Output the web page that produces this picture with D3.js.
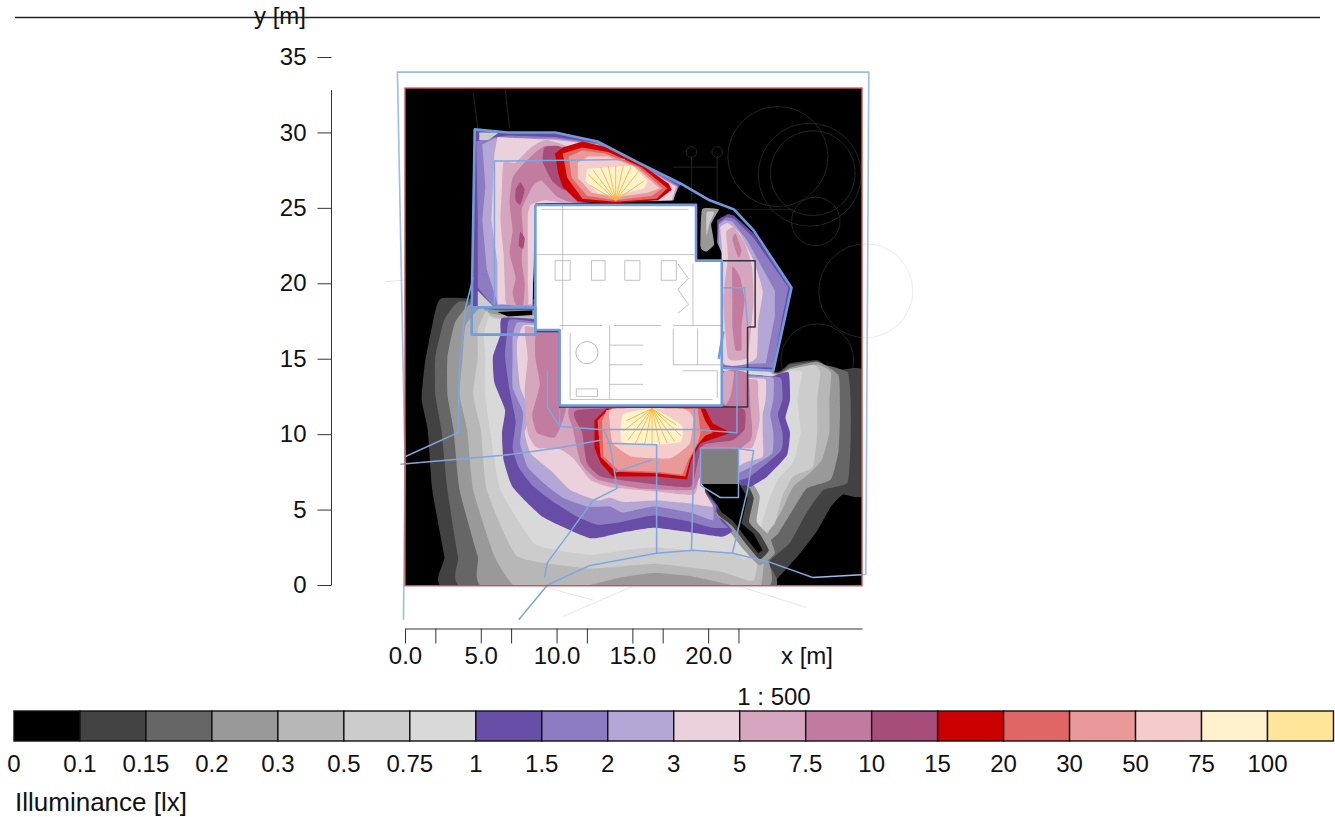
<!DOCTYPE html>
<html>
<head>
<meta charset="utf-8">
<script src="https://cdn.jsdelivr.net/npm/d3@7"></script>
<style>
body { margin: 0; background: #fff; }
text { font-family: "Liberation Sans", Arial, sans-serif; fill: #111; }
</style>
</head>
<body>
<div id="chart"></div>
<script>
// illuminance classes
var legendTicks = ["0","0.1","0.15","0.2","0.3","0.5","0.75","1","1.5","2","3","5","7.5","10","15","20","30","50","75","100"];
var legendColors = ["#000000","#434343","#666666","#999999","#b7b7b7","#cccccc","#d9d9d9","#674ea7","#8e7cc3","#b4a7d6","#ead1dc","#d5a6bd","#c27ba0","#a64d79","#cc0000","#e06666","#ea9999","#f4cccc","#fff2cc","#ffe599"];

// axis ticks, metres
var xTicks = [0,2,5,7,10,12,15,17,20,22];
var xLabelled = [0,5,10,15,20];
var yTicks = [0,5,10,15,20,25,30,35];

// isolux rings, [x m, y m]
var grayAll01 = [[2.4,19.0],[1.8,17.2],[1.3,14.6],[1.1,12.3],[1.5,10.3],[1.8,6.3],[2.6,1.9],[3.0,-0.3],[24.2,-0.3],[24.3,0.1],[25.9,1.9],[27.2,3.6],[28.1,5.2],[28.9,6.0],[30.4,6.1],[30.4,14.1],[28.3,14.2],[27.2,14.9],[25.4,14.7],[24.3,14.2],[19.5,18.9],[6.3,18.9]];
var grayAll015 = [[3.6,18.8],[2.6,17.6],[2.0,15.1],[2.0,12.6],[2.4,10.3],[2.8,6.3],[3.5,1.9],[4.2,-0.3],[23.9,-0.3],[24.0,1.5],[25.4,2.8],[26.5,4.8],[27.6,6.3],[29.2,6.8],[29.4,9.6],[29.4,12.3],[29.2,14.1],[27.7,14.6],[27.1,14.8],[25.4,14.6],[24.3,14.1],[19.5,18.6],[6.3,18.6]];
var grayAll02 = [[4.3,18.6],[3.3,17.4],[2.8,15.1],[2.8,12.6],[3.2,10.3],[3.6,6.3],[4.8,1.9],[5.6,-0.3],[23.6,-0.3],[23.7,2.5],[24.6,3.4],[25.6,5.0],[26.5,6.4],[28.1,7.0],[28.6,8.9],[28.7,11.4],[28.6,13.9],[27.2,14.8],[25.4,14.4],[24.3,14.1],[19.5,18.2],[6.3,18.2]];
var grayAll03 = [[5.0,18.4],[4.0,17.2],[3.8,15.1],[3.6,12.6],[4.1,10.3],[4.5,6.3],[5.9,1.9],[7.4,-0.2],[11.6,-0.1],[14.2,0.5],[16.4,0.8],[18.8,0.6],[21.1,0.1],[23.4,-0.3],[23.9,3.3],[24.8,4.8],[25.6,6.5],[26.7,7.4],[27.5,8.3],[28.0,10.1],[28.0,12.3],[28.1,14.1],[27.2,14.6],[25.4,14.3],[24.3,14.0],[19.5,17.9],[6.3,17.9]];
var grayAll05 = [[5.4,18.2],[4.8,16.9],[4.8,15.1],[4.5,12.6],[5.0,10.3],[5.4,6.3],[7.4,1.9],[12.2,1.1],[16.6,1.4],[20.8,0.9],[23.0,0.3],[23.5,3.0],[24.4,4.1],[24.9,5.9],[25.6,7.2],[26.9,7.8],[27.2,10.1],[27.2,12.3],[27.4,14.1],[27.0,14.6],[25.4,14.3],[24.3,14.0],[19.5,17.7],[6.3,17.7]];
var grayAll075 = [[5.6,17.9],[5.2,16.6],[5.3,15.1],[5.3,12.6],[5.6,10.3],[6.3,6.3],[8.6,2.7],[12.2,2.0],[14.4,2.3],[16.6,2.5],[19.5,2.2],[21.8,2.0],[22.4,1.7],[22.9,2.1],[23.4,3.6],[24.0,5.6],[24.6,7.0],[25.6,8.1],[26.1,10.1],[25.9,12.3],[26.2,14.1],[25.4,14.2],[24.3,13.9],[19.5,17.6],[6.3,17.6]];

var wedgeGray = [[22.6,7.0],[23.4,5.9],[23.2,4.2],[24.0,3.3],[24.4,2.1],[23.4,1.3],[22.3,2.4],[21.3,3.7],[20.5,4.4],[19.5,6.8]];
var wedgeDark = [[22.3,6.9],[23.0,5.8],[22.7,4.2],[23.4,3.4],[24.0,2.3],[23.4,1.7],[22.6,2.6],[21.6,3.9],[20.7,4.6],[20.4,5.2],[19.5,6.8]];
var wedgeBlack = [[19.5,6.8],[22.0,6.8],[22.6,5.8],[22.2,4.1],[23.0,3.4],[23.6,2.3],[23.3,2.1],[22.6,3.0],[21.6,4.3],[20.9,4.8],[20.6,5.3]];

var south1 = [[6.4,17.7],[6.3,16.6],[5.8,15.1],[5.9,13.4],[6.6,11.6],[6.4,10.1],[6.5,8.3],[7.1,6.5],[9.1,4.5],[12.2,3.1],[14.4,3.5],[16.4,3.8],[18.8,3.5],[20.9,3.2],[21.6,3.6],[21.0,4.3],[20.5,4.6],[20.6,5.3],[19.5,6.6],[22.4,6.6],[22.8,6.5],[23.9,7.2],[25.2,8.6],[25.4,10.1],[25.1,11.1],[25.4,12.3],[25.3,14.1],[24.1,13.8],[23.4,13.9],[20.9,14.2],[12.9,16.9],[8.9,17.6]];
var south15 = [[6.9,17.6],[6.7,16.4],[6.6,15.1],[6.9,12.9],[7.3,10.9],[7.1,9.1],[7.5,7.8],[8.4,6.6],[9.8,5.5],[11.4,4.5],[12.7,4.0],[14.4,4.2],[16.4,4.6],[18.8,4.2],[20.3,3.8],[21.3,3.8],[20.9,4.2],[20.5,4.8],[20.5,5.3],[19.7,6.4],[22.6,7.1],[24.8,8.9],[24.9,10.1],[24.6,11.3],[24.9,12.3],[24.8,13.7],[23.4,13.9],[20.9,14.1],[12.9,16.7],[8.9,17.4]];
var south2 = [[7.4,17.4],[7.1,16.4],[7.1,15.1],[7.1,13.1],[7.8,11.4],[7.6,9.4],[8.1,7.8],[9.1,6.8],[10.4,5.8],[12.0,5.2],[13.5,5.2],[14.4,4.8],[16.4,5.2],[18.8,4.8],[20.3,4.3],[20.3,5.3],[19.7,6.4],[22.4,7.6],[24.2,8.7],[24.3,10.1],[24.1,11.3],[24.3,12.3],[24.3,13.7],[23.4,13.8],[20.9,14.0],[12.9,16.5],[8.9,17.3]];
var south3 = [[7.8,17.2],[7.4,16.2],[7.4,15.1],[7.6,13.1],[8.3,11.4],[7.9,10.1],[8.3,8.7],[9.6,7.6],[10.9,6.3],[12.7,5.6],[13.5,5.8],[14.4,5.5],[16.7,5.6],[18.8,5.4],[20.3,5.2],[19.8,6.4],[22.4,8.1],[23.6,8.5],[23.6,10.1],[23.6,11.3],[23.8,12.3],[23.8,13.6],[23.1,13.7],[20.9,13.9],[12.9,16.4],[8.9,17.2]];
var south5 = [[7.9,17.1],[8.1,15.1],[7.9,12.9],[8.1,10.1],[8.7,9.1],[10.2,9.0],[11.1,8.4],[12.2,7.0],[13.5,6.5],[16.6,6.2],[19.1,6.0],[19.5,7.6],[20.8,9.1],[22.9,9.1],[23.4,10.9],[23.3,12.6],[23.2,13.6],[20.9,13.8],[12.9,16.2],[8.9,17.0]];
var west75 = [[8.7,16.9],[8.6,15.1],[8.9,13.3],[8.4,11.3],[8.7,10.1],[9.9,9.8],[10.6,11.6],[10.9,16.9]];
var south75 = [[11.1,10.3],[11.6,8.1],[12.7,7.0],[15.5,6.4],[19.0,6.3],[19.5,7.2],[22.8,9.6],[22.8,11.6],[22.6,14.0],[21.3,14.2],[20.8,11.9],[11.1,11.9]];
var east3Streak = [[21.0,14.1],[21.7,14.1],[21.5,12.6],[21.1,11.9]];
var south10 = [[11.4,11.6],[11.7,10.1],[12.0,8.1],[12.9,7.2],[15.5,6.8],[18.8,6.5],[19.3,8.1],[19.7,9.3],[21.6,9.6],[22.4,10.3],[22.4,11.6],[20.8,11.9]];
var south15lx = [[12.5,10.9],[12.5,9.1],[12.9,8.1],[13.7,7.2],[16.6,7.2],[18.6,7.0],[18.9,8.3],[19.5,9.4],[21.5,10.1],[20.3,10.7],[19.8,11.7],[13.3,11.7]];
var south20lx = [[12.7,10.9],[12.9,8.5],[13.9,7.5],[16.6,7.4],[18.5,7.2],[18.8,8.3],[19.3,9.3],[19.8,9.9],[20.3,10.1],[19.8,10.9],[19.5,11.7],[13.5,11.7]];
var south30lx = [[13.0,10.9],[13.1,8.5],[14.1,7.6],[16.6,7.5],[18.3,7.3],[18.7,8.3],[19.3,9.4],[19.5,10.1],[19.3,11.7],[13.3,11.6]];
var south50lx = [[13.5,10.9],[13.7,9.4],[15.0,8.5],[17.5,8.4],[18.8,9.4],[19.0,11.1],[18.3,11.7],[13.7,11.7]];
var south75lx = [[14.4,11.3],[14.3,9.5],[16.4,9.3],[18.2,9.5],[18.3,10.5],[17.5,11.1],[16.3,11.7]];

var north1 = [[4.6,30.2],[6.8,30.0],[9.9,30.0],[12.7,29.4],[15.4,28.0],[18.2,26.6],[17.6,25.5],[8.6,25.3],[8.4,18.2],[4.4,18.4]];
var north15 = [[4.7,29.4],[5.3,29.6],[6.8,29.8],[9.9,29.7],[12.7,29.3],[15.4,28.0],[18.0,26.5],[17.7,25.5],[8.6,25.3],[8.4,18.4],[5.9,18.4],[4.8,19.7],[4.8,24.2]];
var north2 = [[5.1,29.2],[5.9,29.6],[9.9,29.6],[12.7,29.2],[15.4,27.9],[18.0,26.4],[17.7,25.5],[8.6,25.3],[8.4,18.5],[6.1,18.7],[5.4,20.9],[5.1,24.2],[5.3,26.4]];
var north3 = [[6.1,29.7],[5.9,28.6],[5.8,26.4],[5.7,24.2],[6.1,21.3],[6.1,18.6],[8.4,18.6],[8.6,25.3],[17.6,25.5],[17.9,26.4],[15.4,27.8],[12.7,29.2],[9.9,29.5]];
var north5 = [[6.5,28.0],[6.4,26.4],[6.3,24.2],[6.5,22.0],[6.6,19.7],[6.7,18.6],[8.1,18.6],[8.1,20.2],[8.1,22.9],[8.1,24.5],[8.3,25.2],[9.2,25.5],[11.2,25.4],[12.9,28.2],[9.4,29.5],[8.3,29.0],[7.3,28.0]];
var north75 = [[7.1,27.0],[6.9,25.3],[7.1,23.5],[6.9,22.0],[7.3,20.4],[7.1,19.4],[7.3,18.6],[7.8,18.6],[7.9,20.0],[7.7,21.5],[7.8,23.3],[7.7,24.9],[8.4,26.4],[9.0,26.8],[10.1,25.7],[11.4,25.4],[11.2,28.8],[9.2,29.1],[7.9,28.0]];
var north10a = [[7.3,26.2],[7.3,25.5],[7.6,25.2],[7.9,26.2],[7.6,26.7]];
var north10b = [[7.6,23.4],[7.5,22.5],[7.8,22.3],[7.9,23.0]];
var north10c = [[9.2,29.0],[9.1,28.0],[9.7,26.8],[10.6,26.2],[10.3,29.0]];
var north15lx = [[9.9,28.6],[10.1,27.3],[10.4,26.4],[11.4,25.4],[13.9,25.3],[16.7,25.5],[17.6,26.2],[17.4,26.6],[15.4,28.0],[13.4,29.0],[11.7,29.4],[10.4,29.0]];
var north20lx = [[10.4,28.6],[10.7,27.0],[11.7,25.6],[13.9,25.4],[16.6,25.6],[17.3,26.3],[15.6,27.7],[13.4,28.7],[11.7,29.0]];
var north30lx = [[10.8,28.4],[11.0,27.0],[12.0,25.8],[13.9,25.5],[16.3,25.8],[17.0,26.3],[15.4,27.7],[13.2,28.6],[11.7,28.8]];
var north50lx = [[11.4,28.0],[11.4,27.0],[12.3,26.0],[13.9,25.7],[16.0,26.0],[16.8,26.3],[15.2,27.7],[13.4,28.4],[12.1,28.4]];
var north75lx = [[12.0,27.6],[11.9,26.8],[12.7,26.0],[13.9,25.8],[15.8,26.3],[16.0,26.8],[15.0,27.8],[13.4,27.7]];

var east1 = [[20.6,24.2],[21.3,24.6],[21.7,24.5],[23.0,23.3],[25.5,19.7],[24.3,14.2],[21.0,14.4],[20.6,14.9],[20.9,16.6],[20.9,22.0],[20.6,22.7]];
var east15 = [[20.7,24.0],[21.2,24.4],[21.7,24.3],[23.0,23.0],[25.3,19.7],[24.9,17.8],[24.3,14.4],[21.0,14.5],[20.9,16.6],[20.9,22.0],[20.6,22.7]];
var east2 = [[20.7,23.9],[21.1,24.2],[21.6,24.1],[22.6,22.8],[24.4,19.5],[24.4,17.8],[23.8,14.7],[21.0,14.6],[20.9,16.6],[20.9,22.0],[20.7,22.6]];
var east3 = [[20.8,23.7],[21.3,24.0],[22.1,23.3],[23.0,21.5],[23.6,19.5],[23.3,17.4],[23.2,15.1],[22.3,14.6],[20.9,14.9],[20.9,22.4]];
var east5 = [[21.2,23.4],[21.7,23.7],[22.4,22.7],[22.9,21.1],[23.0,18.9],[22.8,16.7],[22.6,15.1],[22.1,14.9],[21.3,15.1],[21.0,18.9],[21.3,21.7]];
var east75a = [[21.6,22.9],[21.8,23.3],[22.2,22.2],[22.0,21.7]];
var east75b = [[21.6,21.1],[22.1,20.4],[22.4,18.9],[22.2,17.1],[22.2,15.6],[21.8,15.6],[21.6,17.1],[21.6,18.9]];

// small patches
var cornerNw = [[4.9,30.0],[6.2,30.0],[5.5,29.5],[4.9,29.5]];
var cornerSw = [[4.8,19.5],[5.8,18.5],[4.8,18.5]];
var patchNeOuter = [[19.6,24.9],[20.7,24.9],[20.5,24.5],[20.2,23.9],[20.4,22.6],[19.9,22.1],[19.5,22.4]];
var patchNeInner = [[19.9,24.7],[20.4,24.7],[20.1,24.0],[19.9,23.2]];
var sliverBlack = [[6.1,18.1],[8.4,18.2],[8.4,17.9],[6.8,17.8]];
var sliverEast = [[20.9,16.5],[20.6,15.0],[20.9,15.0]];
var grayBox = [[19.5,9.0],[22.0,9.0],[22.0,6.7],[19.5,6.7]];

// fans of the two floodlights
var fanNorthFrom = [13.9,25.5];
var fanNorthTo = [[12.1,27.2],[12.4,27.5],[12.9,27.7],[13.4,27.8],[13.9,27.8],[14.4,27.8],[14.9,27.7],[15.4,27.4],[15.8,26.8],[12.2,26.5]];
var fanSouthFrom = [16.3,11.7];
var fanSouthTo = [[14.4,10.2],[14.7,9.6],[15.2,9.4],[15.8,9.3],[16.3,9.3],[16.8,9.3],[17.3,9.4],[17.8,9.5],[18.2,9.9],[17.9,10.6],[14.6,10.9]];

// site plan underlay, [x, y, r] in metres
var siteCircles = [[24.6,28.4,3.3],[26.7,27.2,3.4],[26.9,27.3,2.8],[27.1,24.1,1.6],[30.4,19.5,3.1],[27.2,14.9,2.4],[18.9,28.7,0.35],[20.6,28.7,0.35]];
var siteLines = [
  [[-1.3,20.1],[2.0,20.4],[2.3,18.3]],
  [[10.4,-2.1],[15.0,-0.1]],
  [[22.1,-0.1],[26.5,-1.5]],
  [[9.1,-0.1],[12.4,-1.0]],
  [[4.5,32.6],[4.8,30.3]],
  [[6.6,32.9],[6.9,30.3]],
  [[21.3,24.9],[25.6,24.9]],
  [[17.7,27.7],[20.6,27.7]],
  [[18.9,28.4],[18.9,25.5]],
  [[20.6,28.4],[20.6,25.5]]
];

// calculation zones
var zoneOuter = [[-0.1,-2.3],[0,8.1],[-0.5,34.0],[30.6,34.0],[30.4,0.7],[26.9,0.5]];
var zoneThin = [
  [[26.9,0.5],[24.1,1.5],[21.6,2.1],[19.0,2.3],[16.6,2.1],[12.2,1.3],[9.4,0.0],[7.5,-2.3]],
  [[9.2,0.5],[9.4,1.5],[11.1,3.8],[12.4,5.6],[14.0,6.4],[13.5,9.4],[13.1,10.3]],
  [[-0.3,8.0],[6.5,8.6],[10.2,9.1],[12.9,9.6]],
  [[0,8.5],[3.5,10.1],[3.6,14.7],[4.0,18.4],[4.5,20.4]],
  [[13.3,9.4],[16.6,9.3],[16.6,2.1]],
  [[18.9,2.3],[19.1,10.1],[19.1,11.7]],
  [[19.5,9.1],[19.5,6.6],[20.8,5.8],[22.0,5.8],[22.0,9.1],[19.5,9.1]],
  [[21.6,2.1],[22.6,6.3],[23.0,8.9],[21.6,9.1]],
  [[10.2,11.7],[10.2,10.5],[12.9,10.3],[19.1,10.3],[21.9,10.1],[21.9,14.2]],
  [[9.4,14.2],[9.4,11.8],[10.2,10.5]],
  [[13.9,7.5],[16.3,8.3]],
  [[5.9,18.6],[5.9,28.1],[14.5,28.2]],
  [[21.0,19.7],[22.4,19.7],[22.6,17.1]]
];
var zoneThick = [
  [[4.4,18.4],[4.6,30.2],[6.8,30.0],[9.9,30.0],[12.7,29.4],[15.4,28.0],[18.2,26.6],[20.1,25.5],[21.7,24.9],[23.0,23.5],[25.5,19.7],[24.3,14.2],[20.9,14.4]],
  [[4.4,18.4],[4.4,16.6],[8.6,16.6],[8.6,18.4],[4.4,18.4]],
  [[20.7,15.0],[21.0,16.8]]
];

// building
var building = [[8.6,25.2],[19.2,25.2],[19.2,21.5],[20.9,21.5],[20.9,11.9],[10.2,11.9],[10.2,16.9],[8.6,16.9]];
var wallDark = [[19.3,21.5],[23.1,21.5],[23.1,17.1],[22.6,17.1],[22.6,11.8],[10.2,11.8],[10.2,16.8],[8.6,16.8]];
var roomLines = [
  [[9.0,24.9],[18.7,24.9]],
  [[8.6,21.9],[19.2,21.9]],
  [[10.4,25.2],[10.4,16.9]],
  [[9.9,21.5],[10.9,21.5],[10.9,20.2],[9.9,20.2],[9.9,21.5]],
  [[12.3,21.5],[13.2,21.5],[13.2,20.2],[12.3,20.2],[12.3,21.5]],
  [[14.5,21.5],[15.5,21.5],[15.5,20.2],[14.5,20.2],[14.5,21.5]],
  [[16.9,21.5],[17.9,21.5],[17.9,20.2],[16.9,20.2],[16.9,21.5]],
  [[10.2,17.2],[13.0,17.2]],
  [[13.8,17.2],[16.9,17.2]],
  [[17.7,17.2],[20.9,17.2]],
  [[13.5,17.2],[13.5,12.3]],
  [[13.5,15.9],[15.7,15.9]],
  [[13.5,14.6],[15.7,14.6]],
  [[13.5,13.3],[15.7,13.3]],
  [[17.7,17.0],[17.7,14.6],[20.9,14.6]],
  [[19.3,17.0],[19.3,14.6]],
  [[18.3,14.2],[20.6,14.2],[20.6,12.4]],
  [[10.9,12.3],[20.3,12.3]],
  [[10.9,16.7],[10.9,12.3]],
  [[18.0,21.3],[18.7,20.3],[18.0,19.6],[18.7,18.6],[18.0,18.0]],
  [[19.0,21.3],[19.0,17.2]],
  [[11.3,13.0],[12.7,13.0],[12.7,12.5],[11.3,12.5],[11.3,13.0]]
];
var roomCircles = [[12.0,15.4,0.73]];

var scaleText = "1 : 500";
var xTitle = "x [m]";
var yTitle = "y [m]";
var legendTitle = "Illuminance [lx]";

var width = 1335, height = 817;
var svg = d3.select("#chart").append("svg")
  .attr("width", width)
  .attr("height", height)
  .style("display", "block");

var x = d3.scaleLinear().domain([0, 30.15]).range([405, 862]);
var y = d3.scaleLinear().domain([0, 35]).range([585, 57]);
var color = d3.scaleOrdinal(legendTicks, legendColors);

var defs = svg.append("defs");
defs.append("clipPath").attr("id", "plotClip").append("rect")
  .attr("x", x(0)).attr("y", y(32.94))
  .attr("width", x(30.15) - x(0)).attr("height", y(-0.05) - y(32.94));
defs.append("filter").attr("id", "soft").attr("x", "-5%").attr("y", "-5%").attr("width", "110%").attr("height", "110%")
  .append("feGaussianBlur").attr("stdDeviation", 0.6);

var ringPath = d3.line().x(function(d) { return x(d[0]); }).y(function(d) { return y(d[1]); }).curve(d3.curveCardinalClosed.tension(0.55));
var boxPath = d3.line().x(function(d) { return x(d[0]); }).y(function(d) { return y(d[1]); }).curve(d3.curveLinearClosed);
var openPath = d3.line().x(function(d) { return x(d[0]); }).y(function(d) { return y(d[1]); });

var plan = svg.append("g").attr("filter", "url(#soft)");

function circles(parent, data, stroke) {
  parent.selectAll(null).data(data).enter().append("circle")
    .attr("cx", function(d) { return x(d[0]); })
    .attr("cy", function(d) { return y(d[1]); })
    .attr("r", function(d) { return x(d[2]) - x(0); })
    .attr("fill", "none").attr("stroke", stroke).attr("stroke-width", 0.8);
}
function lines(parent, data, stroke, w) {
  parent.selectAll(null).data(data).enter().append("path")
    .attr("d", openPath)
    .attr("fill", "none").attr("stroke", stroke).attr("stroke-width", w)
    .attr("stroke-linejoin", "round");
}
// third item set: keep the corners sharp
function rings(parent, list) {
  parent.selectAll(null).data(list).enter().append("path")
    .attr("d", function(d) { return d[2] ? boxPath(d[0]) : ringPath(d[0]); })
    .attr("fill", function(d) { return color(d[1]); });
}

// pale underlay outside the calculation area
circles(plan, siteCircles.slice(4, 5), "#e6e6e6");
lines(plan, siteLines.slice(0, 4), "#e6e6e6", 1);

var area = plan.append("g").attr("clip-path", "url(#plotClip)");
area.append("rect")
  .attr("x", x(0)).attr("y", y(33))
  .attr("width", x(30.15) - x(0)).attr("height", y(-0.1) - y(33))
  .attr("fill", color("0"));
circles(area, siteCircles, "#2c2c2c");
lines(area, siteLines.slice(4), "#2c2c2c", 0.8);

rings(area, [
  [grayAll01, "0.1"], [grayAll015, "0.15"], [grayAll02, "0.2"], [grayAll03, "0.3"], [grayAll05, "0.5"], [grayAll075, "0.75"],
  [wedgeGray, "0.2"], [wedgeDark, "0.1"],
  [south1, "1"], [south15, "1.5"], [south2, "2"], [south3, "3"], [south5, "5"],
  [west75, "7.5"], [south75, "7.5"], [east3Streak, "5"], [south10, "10"],
  [south15lx, "15", true], [south20lx, "20", true], [south30lx, "30", true], [south50lx, "50"], [south75lx, "75"],
  [north1, "1", true], [north15, "1.5", true], [north2, "2", true], [north3, "3", true], [north5, "5"], [north75, "7.5"],
  [north10a, "10"], [north10b, "10"], [north10c, "10"],
  [north15lx, "15", true], [north20lx, "20", true], [north30lx, "30", true], [north50lx, "50", true], [north75lx, "75", true],
  [east1, "1", true], [east15, "1.5", true], [east2, "2", true], [east3, "3"], [east5, "5"], [east75a, "7.5"], [east75b, "7.5"],
  [cornerNw, "0.5", true], [cornerSw, "0.5", true],
  [patchNeOuter, "0.2"], [patchNeInner, "0.5"],
  [sliverBlack, "0", true], [sliverEast, "0", true], [wedgeBlack, "0", true]
]);

area.append("path").attr("d", boxPath(grayBox)).attr("fill", "#7f7f7f");

// floodlight fans
var fanRays = fanNorthTo.map(function(p) { return [fanNorthFrom, p]; })
  .concat(fanSouthTo.map(function(p) { return [fanSouthFrom, p]; }));
lines(area, fanRays, "#f1b93a", 0.9);

// building on top of the contours
area.append("path").attr("d", boxPath(building)).attr("fill", "#fff");
lines(area, roomLines, "#a8a8a8", 0.7);
circles(area, roomCircles, "#a8a8a8");

lines(plan, [wallDark], "#33333b", 1.5);
lines(plan, [zoneOuter], "#9dbce8", 1.6);
lines(plan, zoneThin, "#7fa6e0", 1.5);
lines(plan, zoneThick, "#6f9bdc", 2.6);
lines(plan, [building.concat([building[0]])], "#6f9bdc", 2.6);

// frame of the calculation area
svg.append("rect")
  .attr("x", x(0)).attr("y", y(32.94))
  .attr("width", x(30.15) - x(0)).attr("height", y(-0.05) - y(32.94))
  .attr("fill", "none").attr("stroke", "#c8555a").attr("stroke-width", 1.4);

// top rule with the y title on it
svg.append("line").attr("x1", 15).attr("x2", 1320).attr("y1", 17.5).attr("y2", 17.5)
  .attr("stroke", "#222").attr("stroke-width", 1.4);

var fontSize = 24;

var xAxis = svg.append("g")
  .attr("transform", "translate(0,628.5)")
  .call(d3.axisBottom(x).tickValues(xTicks).tickSize(15).tickSizeOuter(0).tickPadding(3)
    .tickFormat(function(d) { return xLabelled.indexOf(d) >= 0 ? d3.format(".1f")(d) : ""; }));
var yAxis = svg.append("g")
  .attr("transform", "translate(331.5,0)")
  .call(d3.axisLeft(y).tickValues(yTicks).tickSize(14).tickSizeOuter(0).tickPadding(11));
yAxis.select(".domain").remove();
yAxis.append("line")
  .attr("y1", y(0)).attr("y2", y(32.8))
  .attr("stroke", "#333");
svg.selectAll(".tick line").attr("stroke", "#333");
xAxis.select(".domain").attr("stroke", "#333");
svg.selectAll(".tick text").attr("font-size", fontSize).attr("font-family", "Liberation Sans").attr("fill", "#111");

svg.append("text").attr("x", 807).attr("y", 664).attr("text-anchor", "middle").attr("font-size", fontSize).text(xTitle);
svg.append("text").attr("x", 280).attr("y", 24).attr("text-anchor", "middle").attr("font-size", fontSize).text(yTitle);
svg.append("text").attr("x", 774).attr("y", 705).attr("text-anchor", "middle").attr("font-size", fontSize).text(scaleText);

// legend
var legendX = d3.scalePoint().domain(legendTicks).range([14, 1267.5]);
var cellW = legendX.step();
var legend = svg.append("g");
legend.selectAll("rect").data(legendTicks).enter().append("rect")
  .attr("x", function(d) { return legendX(d); })
  .attr("y", 711)
  .attr("width", cellW)
  .attr("height", 30)
  .attr("fill", function(d) { return color(d); })
  .attr("stroke", "#111")
  .attr("stroke-width", 1.4);
legend.selectAll("text").data(legendTicks).enter().append("text")
  .attr("x", function(d) { return legendX(d); })
  .attr("y", 772)
  .attr("text-anchor", "middle")
  .attr("font-size", fontSize)
  .text(function(d) { return d; });
svg.append("text").attr("x", 15).attr("y", 811).attr("font-size", 26).text(legendTitle);
</script>
</body>
</html>
